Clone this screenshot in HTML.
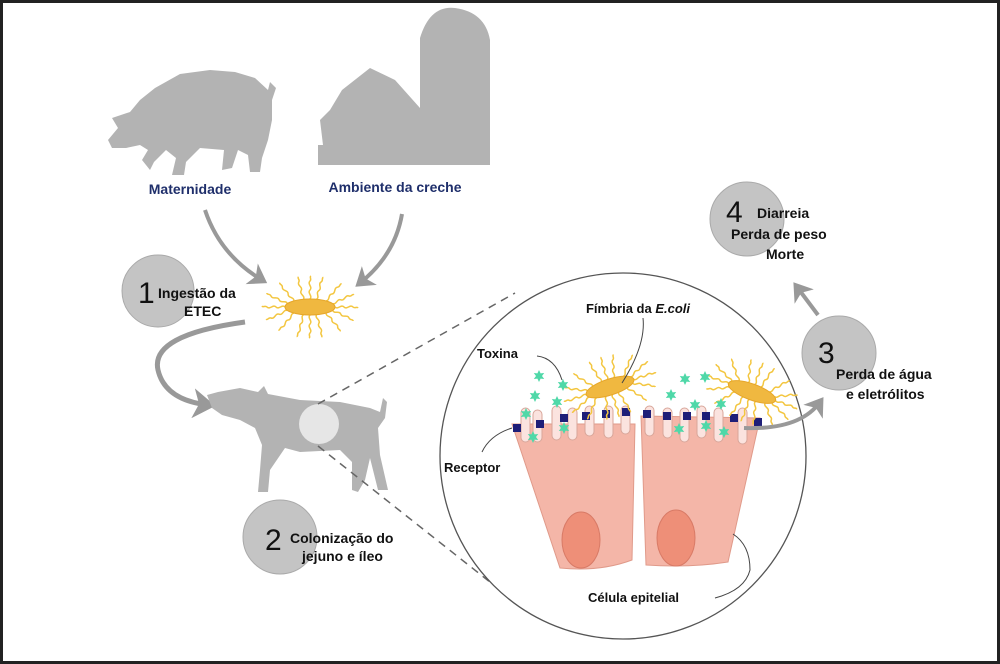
<!DOCTYPE html>
<html><head><meta charset="utf-8"><style>
html,body{margin:0;padding:0;background:#fff}
svg{display:block}
text{font-family:"Liberation Sans",sans-serif;font-weight:bold}
</style></head><body>
<svg width="1000" height="664" viewBox="0 0 1000 664" xmlns="http://www.w3.org/2000/svg">
<defs>
<marker id="ah" markerWidth="6" markerHeight="6" refX="3" refY="3" orient="auto" markerUnits="strokeWidth"><path d="M0,0 L4.5,3 L0,6 L1.2,3 Z" fill="#999"/></marker>
<path id="fb" d="M0,0 c3,-3 -3,-6 0,-9 c3,-3 -3,-6 0,-9 c2,-2 -1,-4 1,-5" fill="none" stroke="#f3c640" stroke-width="1.5"/>
<g id="bac">
 <use href="#fb" transform="translate(25,0) rotate(90)"/>
 <use href="#fb" transform="translate(22.7,3.4) rotate(115)"/>
 <use href="#fb" transform="translate(16.1,6.1) rotate(140)"/>
 <use href="#fb" transform="translate(6.5,7.7) rotate(165)"/>
 <use href="#fb" transform="translate(-6.5,7.7) rotate(195)"/>
 <use href="#fb" transform="translate(-16.1,6.1) rotate(220)"/>
 <use href="#fb" transform="translate(-22.7,3.4) rotate(245)"/>
 <use href="#fb" transform="translate(-25,0) rotate(270)"/>
 <use href="#fb" transform="translate(-22.7,-3.4) rotate(295)"/>
 <use href="#fb" transform="translate(-16.1,-6.1) rotate(320)"/>
 <use href="#fb" transform="translate(-6.5,-7.7) rotate(345)"/>
 <use href="#fb" transform="translate(6.5,-7.7) rotate(15)"/>
 <use href="#fb" transform="translate(16.1,-6.1) rotate(40)"/>
 <use href="#fb" transform="translate(22.7,-3.4) rotate(65)"/>
 <use href="#fb" transform="translate(0,8) rotate(180)"/>
 <use href="#fb" transform="translate(0,-8) rotate(0)"/>
 <ellipse cx="0" cy="0" rx="25" ry="8" fill="#f0b840" stroke="#e6a62a" stroke-width="1"/>
</g>
<polygon id="st" points="0,-6 1.6,-2.6 5.2,-3 3,0 5.2,3 1.6,2.6 0,6 -1.6,2.6 -5.2,3 -3,0 -5.2,-3 -1.6,-2.6" fill="#4fd8a8"/>
</defs>
<rect x="1.5" y="1.5" width="997" height="661" fill="#fff" stroke="#222" stroke-width="3"/>

<!-- sow -->
<path fill="#b3b3b3" d="M108,140 L118,128 L112,118 L130,112 L140,100 L155,88 L180,74 L210,70 L235,72 L255,78 L268,90 L270,82 L276,88 L272,100 L272,120 L268,140 L262,158 L260,172 L250,172 L248,155 L238,150 L232,168 L222,170 L224,150 L200,148 L186,162 L184,175 L172,175 L176,158 L166,150 L154,162 L150,170 L142,160 L148,150 L140,145 L126,148 L112,148 Z"/>
<!-- barn -->
<path fill="#b3b3b3" d="M318,165 L318,145 L323,145 L320,120 L330,110 L342,90 L370,68 L395,80 L420,108 L420,38 Q430,5 455,8 Q485,12 490,40 L490,165 Z"/>
<text x="190" y="194" font-size="14" fill="#1f2f6b" text-anchor="middle">Maternidade</text>
<text x="395" y="192" font-size="14" fill="#1f2f6b" text-anchor="middle">Ambiente da creche</text>

<path d="M205,210 Q220,255 262,280" fill="none" stroke="#999" stroke-width="4" marker-end="url(#ah)"/>
<path d="M402,214 Q395,255 360,283" fill="none" stroke="#999" stroke-width="4" marker-end="url(#ah)"/>

<use href="#bac" x="310" y="307"/>

<circle cx="158" cy="291" r="36" fill="#c4c4c4" stroke="#aaa"/>
<text x="138" y="303" font-size="30" style="font-weight:normal" fill="#111">1</text>
<text x="158" y="298" font-size="14" fill="#111">Ingestão da</text>
<text x="184" y="316" font-size="14" fill="#111">ETEC</text>

<path d="M245,322 Q150,335 158,370 Q165,400 208,405" fill="none" stroke="#999" stroke-width="5" marker-end="url(#ah)"/>

<!-- piglet -->
<path fill="#b3b3b3" d="M207,395 L218,392 L240,388 L258,392 L264,386 L268,394 L300,400 L340,402 L370,408 L380,412 L383,398 L387,402 L385,418 L378,428 L380,455 L388,490 L378,490 L370,458 L365,480 L358,492 L352,490 L352,462 L340,450 L300,452 L285,448 L270,470 L268,492 L258,492 L260,470 L262,445 L255,428 L240,420 L222,415 L212,408 Z"/>
<circle cx="319" cy="424" r="20" fill="#e6e6e6"/>

<circle cx="280" cy="537" r="37" fill="#c4c4c4" stroke="#aaa"/>
<text x="265" y="550" font-size="30" style="font-weight:normal" fill="#111">2</text>
<text x="290" y="543" font-size="14" fill="#111">Colonização do</text>
<text x="302" y="561" font-size="14" fill="#111">jejuno e íleo</text>

<line x1="318" y1="404" x2="515" y2="293" stroke="#666" stroke-width="1.5" stroke-dasharray="8,6"/>
<line x1="318" y1="446" x2="495" y2="586" stroke="#666" stroke-width="1.5" stroke-dasharray="8,6"/>

<circle cx="623" cy="456" r="183" fill="#fff" stroke="#555" stroke-width="1.3"/>

<path d="M512,424 L635,424 L632,560 Q600,572 560,568 Z" fill="#f4b6a8" stroke="#e09a8a" stroke-width="1"/>
<path d="M641,416 L760,418 L728,562 Q690,568 646,565 Z" fill="#f4b6a8" stroke="#e09a8a" stroke-width="1"/>
<ellipse cx="581" cy="540" rx="19" ry="28" fill="#ee8f78" stroke="#d87a66"/>
<ellipse cx="676" cy="538" rx="19" ry="28" fill="#ee8f78" stroke="#d87a66"/>
<g fill="#fbe3df" stroke="#d8a69a" stroke-width="1">
<rect x="521" y="408" width="9" height="34" rx="4.5"/><rect x="533" y="410" width="9" height="32" rx="4.5"/>
<rect x="552" y="406" width="9" height="34" rx="4.5"/><rect x="568" y="408" width="9" height="32" rx="4.5"/>
<rect x="585" y="406" width="9" height="30" rx="4.5"/><rect x="604" y="406" width="9" height="32" rx="4.5"/>
<rect x="621" y="406" width="9" height="28" rx="4.5"/>
<rect x="645" y="406" width="9" height="30" rx="4.5"/><rect x="663" y="408" width="9" height="30" rx="4.5"/>
<rect x="680" y="408" width="9" height="34" rx="4.5"/><rect x="697" y="406" width="9" height="32" rx="4.5"/>
<rect x="714" y="408" width="9" height="34" rx="4.5"/><rect x="738" y="408" width="9" height="36" rx="4.5"/>
</g>
<g fill="#1e1e78">
<rect x="513" y="424" width="8" height="8"/><rect x="536" y="420" width="8" height="8"/>
<rect x="560" y="414" width="8" height="8"/><rect x="582" y="412" width="8" height="8"/>
<rect x="602" y="410" width="8" height="8"/><rect x="622" y="408" width="8" height="8"/>
<rect x="643" y="410" width="8" height="8"/><rect x="663" y="412" width="8" height="8"/>
<rect x="683" y="412" width="8" height="8"/><rect x="702" y="412" width="8" height="8"/>
<rect x="730" y="414" width="8" height="8"/><rect x="754" y="418" width="8" height="8"/>
</g>
<use href="#bac" transform="translate(610,387) rotate(-18)"/>
<use href="#bac" transform="translate(752,392) rotate(20)"/>
<g>
<use href="#st" x="539" y="376"/><use href="#st" x="563" y="385"/><use href="#st" x="535" y="396"/>
<use href="#st" x="557" y="402"/><use href="#st" x="526" y="414"/><use href="#st" x="533" y="437"/>
<use href="#st" x="564" y="428"/><use href="#st" x="685" y="379"/><use href="#st" x="705" y="377"/>
<use href="#st" x="671" y="395"/><use href="#st" x="695" y="405"/><use href="#st" x="721" y="404"/>
<use href="#st" x="679" y="429"/><use href="#st" x="706" y="426"/><use href="#st" x="724" y="432"/>
</g>
<g fill="none" stroke="#444" stroke-width="1">
<path d="M537,356 Q555,358 562,380"/>
<path d="M643,318 Q646,345 622,383"/>
<path d="M512,428 Q490,435 482,452"/>
<path d="M733,534 Q750,545 750,570 Q745,590 715,598"/>
</g>
<text x="638" y="313" font-size="13" fill="#111" text-anchor="middle">Fímbria da <tspan font-style="italic">E.coli</tspan></text>
<text x="477" y="358" font-size="13" fill="#111">Toxina</text>
<text x="444" y="472" font-size="13" fill="#111">Receptor</text>
<text x="588" y="602" font-size="13" fill="#111">Célula epitelial</text>

<path d="M744,428 Q800,430 820,402" fill="none" stroke="#999" stroke-width="4" marker-end="url(#ah)"/>
<circle cx="839" cy="353" r="37" fill="#c4c4c4" stroke="#aaa"/>
<text x="818" y="363" font-size="30" style="font-weight:normal" fill="#111">3</text>
<text x="836" y="379" font-size="14" fill="#111">Perda de água</text>
<text x="846" y="399" font-size="14" fill="#111">e eletrólitos</text>

<path d="M818,315 L797,287" fill="none" stroke="#999" stroke-width="4" marker-end="url(#ah)"/>
<circle cx="747" cy="219" r="37" fill="#c4c4c4" stroke="#aaa"/>
<text x="726" y="222" font-size="30" style="font-weight:normal" fill="#111">4</text>
<text x="757" y="218" font-size="14" fill="#111">Diarreia</text>
<text x="731" y="239" font-size="14" fill="#111">Perda de peso</text>
<text x="766" y="259" font-size="14" fill="#111">Morte</text>
</svg>
</body></html>
